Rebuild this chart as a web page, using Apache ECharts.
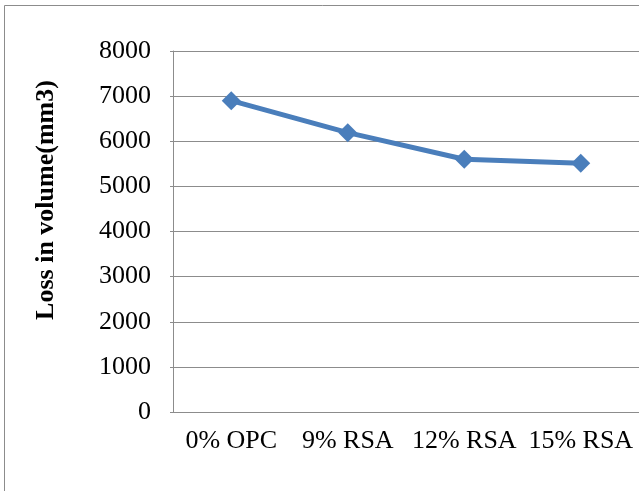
<!DOCTYPE html>
<html>
<head>
<meta charset="utf-8">
<script src="https://cdn.jsdelivr.net/npm/echarts@6/dist/echarts.min.js"></script>
<style>
  html, body { margin: 0; padding: 0; background: #fff; }
  #chart { width: 639px; height: 491px; }
</style>
</head>
<body>
<div id="chart"></div>
<script>
// data
var categories = ['0% OPC', '9% RSA', '12% RSA', '15% RSA'];
var lossVolume = [6900, 6190, 5600, 5510];
var yTicks = { min: 0, max: 8000, interval: 1000 };
var yTitle = 'Loss in volume(mm3)';

var serif = '"Liberation Serif", "Times New Roman", serif';
var gridGray = '#8c8c8c';

var myChart = echarts.init(document.getElementById('chart'));
var option = {
    backgroundColor: '#fff',
    animation: false,
    grid: {
        left: 173,
        top: 51,
        bottom: 79,
        right: -5,
        containLabel: false
    },
    graphic: [
        {
            // outer chart frame (right and bottom edges fall outside the picture)
            type: 'rect',
            shape: { x: 4.5, y: 5.5, width: 700, height: 600 },
            style: { fill: 'none', stroke: '#8c8c8c', lineWidth: 1 },
            silent: true
        },
        {
            type: 'text',
            x: 46,
            y: 200,
            rotation: Math.PI / 2,
            style: {
                text: yTitle,
                font: 'bold 26px ' + serif,
                fill: '#000',
                textAlign: 'center',
                textVerticalAlign: 'middle'
            },
            silent: true
        }
    ],
    xAxis: {
        type: 'category',
        data: categories,
        boundaryGap: true,
        axisLine: { show: true, lineStyle: { color: gridGray, width: 1 } },
        axisTick: { show: false },
        axisLabel: {
            interval: 0,
            margin: 16,
            color: '#000',
            fontFamily: serif,
            fontSize: 26
        },
        splitLine: { show: false }
    },
    yAxis: {
        type: 'value',
        min: yTicks.min,
        max: yTicks.max,
        interval: yTicks.interval,
        axisLine: { show: true, lineStyle: { color: gridGray, width: 1 } },
        axisTick: { show: true, length: 3, lineStyle: { color: gridGray } },
        axisLabel: {
            margin: 22,
            color: '#000',
            fontFamily: serif,
            fontSize: 26,
            formatter: function (v) { return String(v); }
        },
        splitLine: { show: true, lineStyle: { color: gridGray, width: 1 } }
    },
    series: [{
        type: 'line',
        data: lossVolume,
        symbol: 'diamond',
        symbolSize: 19,
        lineStyle: { color: '#4a7ebb', width: 5 },
        itemStyle: { color: '#4a7ebb' }
    }]
};

option && myChart.setOption(option);
window.addEventListener('resize', () => {
    myChart.resize()
})
</script>
</body>
</html>
